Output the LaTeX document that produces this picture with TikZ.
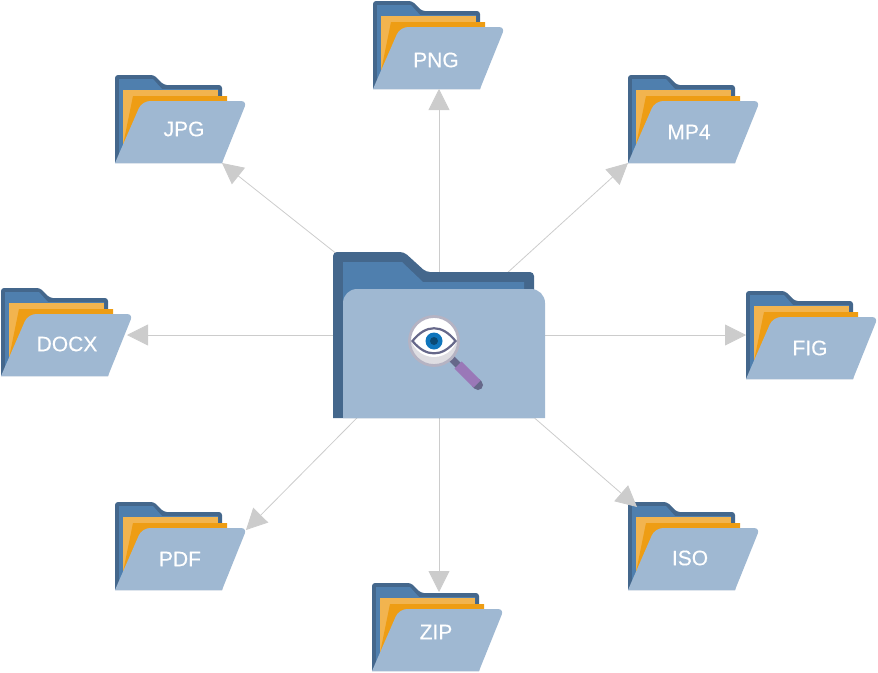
\documentclass[tikz,border=0pt]{standalone}
\usepackage{fontspec}
\setmainfont{Liberation Sans}
\newfontfamily\labelfont[FakeBold=0.3]{Liberation Sans}
\usepackage{tikz}
\usetikzlibrary{arrows.meta}
\definecolor{folderdark}{HTML}{44678C}
\definecolor{folderblue}{HTML}{4F7FAE}
\definecolor{folderfront}{HTML}{9FB8D2}
\definecolor{paperlight}{HTML}{F2B44F}
\definecolor{paperdark}{HTML}{EE9D14}
\definecolor{linkgray}{HTML}{CCCCCC}
\definecolor{lensring}{HTML}{B5B3C3}
\definecolor{lensgray}{HTML}{DEDDE2}
\definecolor{lensdark}{HTML}{66688A}
\definecolor{irisblue}{HTML}{0F75BC}
\definecolor{pupilblue}{HTML}{0B4A75}
\definecolor{handlepurple}{HTML}{9A78B8}
\tikzset{
    link/.style={linkgray, line width=0.8pt, -{Triangle[length=21pt,width=21pt]}},
    filetype/.style={text=white, font=\labelfont\fontsize{21}{21}\selectfont, inner sep=0pt},
}
% name, x, y, label x, label y, label, arrow tip
\newcommand{\folder}[7]{
    \begin{scope}[shift={(#2,#3)}]
        \fill[folderdark] (0,88) [rounded corners=3pt] -- (0,0) -- (39,0) -- (49,10) -- (107,10) [sharp corners] -- (107,88) -- cycle;
        \fill[folderblue] (4,4) -- (38,4) -- (47,14) -- (103,14) -- (103,40) -- (4,80) -- cycle;
        \fill[paperlight] (8,15) rectangle (103,70);
        \fill[paperdark] (18,21) -- (112,21) -- (112,50) -- (8,70) -- cycle;
        \fill[folderfront] (0,88) -- (107,88) [rounded corners=6pt] -- (132,26) [rounded corners=8pt] -- (27,26) [sharp corners] -- cycle;
    \end{scope}
    \node[filetype] (#1) at (#4,#5) {#6};
    \coordinate (#1tip) at (#7);
}

\begin{document}
\begin{tikzpicture}[x=1pt,y=-1pt]
    \useasboundingbox (0,0) rectangle (878,672);
    \folder{jpg}{115}{75}{184}{129}{JPG}{222,163}
    \folder{png}{373}{1}{436}{60}{PNG}{439,89}
    \folder{mp4}{628}{75}{689}{132}{MP4}{628,163}
    \folder{docx}{1}{288}{67}{344}{DOCX}{127,335}
    \folder{fig}{746}{291}{810}{348}{FIG}{746,335}
    \folder{pdf}{115}{502}{180}{559}{PDF}{246,530}
    \folder{iso}{628}{502}{690}{558}{ISO}{637,507}
    \folder{zip}{372}{583}{436}{632}{ZIP}{439,592}

    \coordinate (hub) at (439,335);
    \draw[link] (hub) -- (jpgtip);
    \draw[link] (hub) -- (pngtip);
    \draw[link] (hub) -- (mp4tip);
    \draw[link] (hub) -- (docxtip);
    \draw[link] (hub) -- (figtip);
    \draw[link] (hub) -- (pdftip);
    \draw[link] (hub) -- (isotip);
    \draw[link] (hub) -- (ziptip);

    % big folder
    \fill[folderdark] (333,418) [rounded corners=4pt] -- (333,252) -- (404,252) -- (426,272) -- (534,272) [sharp corners] -- (534,418) -- cycle;
    \fill[folderblue] (343,300) -- (343,262) -- (402,262) -- (423,282) -- (524,282) -- (524,300) -- cycle;
    \fill[folderfront] (343,418) [rounded corners=14pt] -- (343,289) -- (545,289) [sharp corners] -- (545,418) -- cycle;

    % magnifier
    \draw[lensdark, line width=7pt] (451,358) -- (460,367);
    \draw[lensdark, line width=10pt, line cap=round] (476,383) -- (478,385);
    \draw[handlepurple, line width=10pt] (458,365) -- (477,384);
    \fill[lensgray] (434,341) circle (24);
    \begin{scope}
        \clip (434,341) circle (24);
        \fill[white] (434,333) circle (24);
    \end{scope}
    \draw[lensring, line width=2.8pt] (434,341) circle (24.5);
    \draw[lensdark, line width=2.2pt, fill=white] (412.5,341) .. controls (426,324) and (442,324) .. (455.5,341) .. controls (442,357.5) and (426,357.5) .. (412.5,341) -- cycle;
    \fill[irisblue] (434,341) circle (8.5);
    \fill[pupilblue] (434,341) circle (4);
\end{tikzpicture}
\end{document}
